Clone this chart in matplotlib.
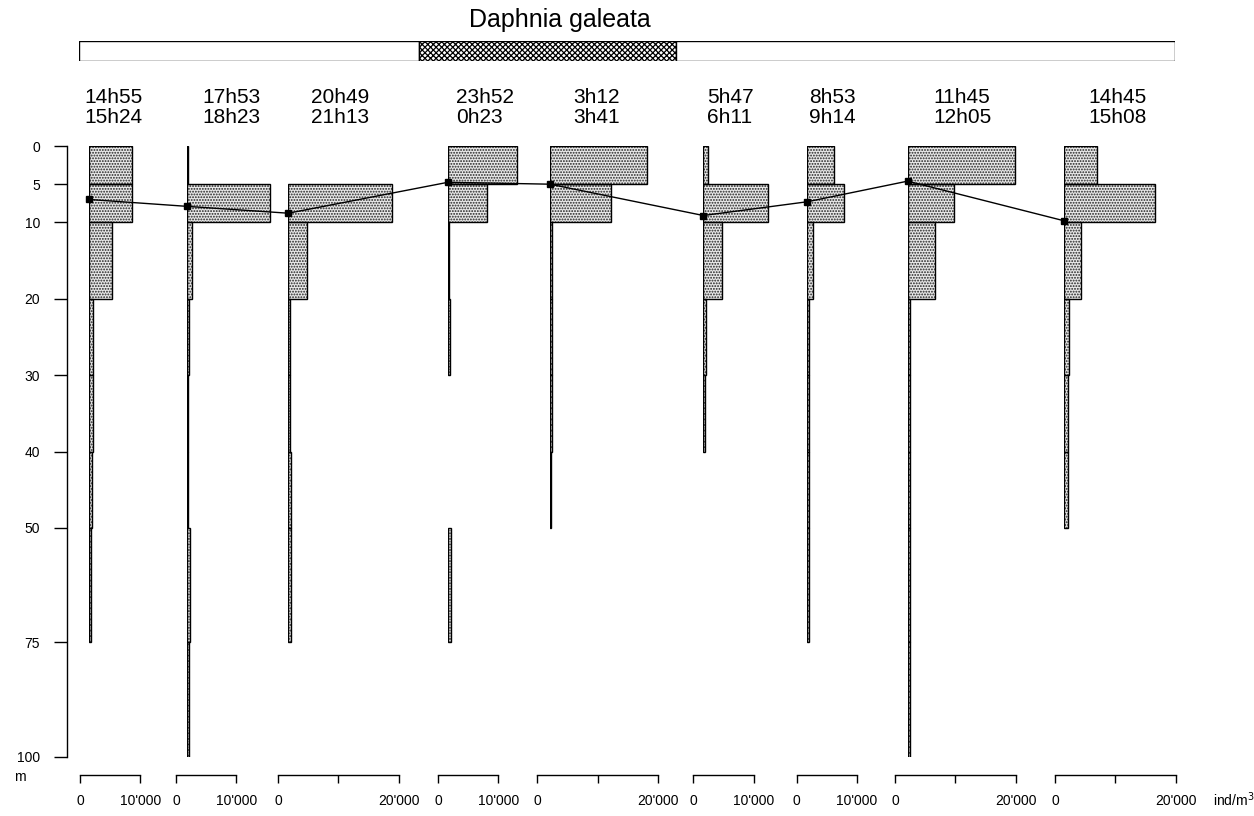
import numpy as np
import matplotlib
matplotlib.use("Agg")
import matplotlib.pyplot as plt
from matplotlib.lines import Line2D

plt.rcParams['font.family'] = ['Liberation Sans', 'DejaVu Sans']
plt.rcParams['hatch.linewidth'] = 0.9

# ---------------- data ----------------
title = "Daphnia galeata"
time_start = ["14h55", "17h53", "20h49", "23h52", "3h12", "5h47", "8h53", "11h45", "14h45"]
time_end = ["15h24", "18h23", "21h13", "0h23", "3h41", "6h11", "9h14", "12h05", "15h08"]

# depth layer boundaries (m)
layer_top = [0, 5, 10, 20, 30, 40, 50, 75]
layer_bot = [5, 10, 20, 30, 40, 50, 75, 100]

# densities (ind/m3) per layer, per profile (0 = no sample / no animals)
p1 = [7150, 7150, 3850, 700, 600, 450, 400, 0]
p2 = [200, 13800, 950, 400, 250, 250, 550, 300]
p3 = [0, 17200, 3100, 350, 300, 400, 500, 0]
p4 = [11500, 6550, 200, 250, 0, 0, 500, 0]
p5 = [16100, 10100, 300, 300, 250, 200, 0, 0]
p6 = [830, 10700, 3100, 400, 350, 0, 0, 0]
p7 = [4460, 6060, 890, 350, 300, 300, 300, 0]
p8 = [17850, 7700, 4500, 450, 400, 350, 300, 300]
p9 = [5450, 15000, 2700, 700, 650, 600, 0, 0]
densities = [p1, p2, p3, p4, p5, p6, p7, p8, p9]

# weighted mean depth (m)
mean_depth = [7.0, 7.9, 8.8, 4.75, 5.0, 9.1, 7.3, 4.6, 9.8]

# x-scale range shown under each profile (ind/m3)
scale_max = [10000, 10000, 20000, 10000, 20000, 10000, 10000, 20000, 20000]

depth_ticks = [0, 5, 10, 20, 30, 40, 50, 75, 100]

# day / night bar (fraction of the time bar)
night_start = 0.310
night_end = 0.545

# ---------------- layout ----------------
W, H = 1254, 816
fig = plt.figure(figsize=(W / 100, H / 100), dpi=100)


def fx(x):
    return x / W


def fy(y):
    return 1 - y / H


Y0, Y100 = 146, 757           # pixel rows of depth 0 and 100 m
PX_PER_1000 = 6.03            # horizontal pixels per 1000 ind/m3
base_x = [89, 186.7, 288.3, 448, 550, 703.3, 807.3, 907.7, 1064.3]
scale_x = [79.9, 176, 278.1, 438.1, 537.2, 693.4, 796.7, 895.1, 1055.1]
label_x = [84, 202, 311, 456, 573, 707, 809, 933, 1088]


def fwd(d):
    d = np.asarray(d, dtype=float)
    return np.where(d <= 50, d, 50 + (d - 50) * 0.6)


def inv(t):
    t = np.asarray(t, dtype=float)
    return np.where(t <= 50, t, 50 + (t - 50) / 0.6)


def depth_axes(left_px, width_px):
    ax = fig.add_axes([fx(left_px), fy(Y100), width_px / W, (Y100 - Y0) / H])
    ax.set_yscale('function', functions=(fwd, inv))
    ax.set_ylim(100, 0)
    ax.patch.set_alpha(0)
    return ax


# title
fig.text(fx(560), fy(20), title, ha='center', va='center', fontsize=18)

# day/night bar
axb = fig.add_axes([fx(79), fy(61), (1175 - 79) / W, 20 / H])
axb.set_xlim(0, 1)
axb.set_ylim(0, 1)
axb.barh(0, night_start, left=0, height=1, align='edge', color='white', edgecolor='black', lw=1)
axb.barh(0, night_end - night_start, left=night_start, height=1, align='edge',
         color='white', edgecolor='black', hatch='xxxxxx', lw=1)
axb.barh(0, 1 - night_end, left=night_end, height=1, align='edge', color='white', edgecolor='black', lw=1)
axb.axis('off')

# depth axis
axd = depth_axes(67, 1)
for s in ['top', 'right', 'bottom']:
    axd.spines[s].set_visible(False)
axd.spines['left'].set_linewidth(1.0)
axd.set_xticks([])
axd.set_yticks(depth_ticks)
axd.set_yticklabels([str(t) for t in depth_ticks])
axd.yaxis.set_minor_locator(matplotlib.ticker.NullLocator())
axd.tick_params(axis='y', length=9.5, width=1.0, pad=10, labelsize=10)
fig.text(fx(20), fy(777), "m", ha='center', va='center', fontsize=10)

# profiles
pts = []
for i in range(len(densities)):
    ax = depth_axes(base_x[i], 20000 * PX_PER_1000 / 1000)
    ax.set_xlim(0, 20000)
    tops = [t for t, v in zip(layer_top, densities[i]) if v > 0]
    hts = [b - t for t, b, v in zip(layer_top, layer_bot, densities[i]) if v > 0]
    vals = [v for v in densities[i] if v > 0]
    ax.barh(tops, vals, height=hts, left=0, align='edge',
            color='#e8e8e8', edgecolor='#222222', hatch='......', lw=0)
    ax.barh(tops, vals, height=hts, left=0, align='edge',
            fill=False, edgecolor='black', lw=1.0)
    ax.axis('off')
    # mean depth point in figure coordinates
    p = ax.transData.transform((0, mean_depth[i]))
    pts.append(fig.transFigure.inverted().transform(p))

    # time label
    fig.text(fx(label_x[i]), fy(107.5), time_start[i] + "\n" + time_end[i],
             ha='left', va='center', fontsize=15, linespacing=1.1)

    # scale bar
    axs = fig.add_axes([fx(scale_x[i]), fy(775), scale_max[i] * PX_PER_1000 / 1000 / W, 0.0005])
    axs.set_xlim(0, scale_max[i])
    axs.set_ylim(0, 1)
    for s in ['top', 'right', 'left']:
        axs.spines[s].set_visible(False)
    axs.spines['bottom'].set_linewidth(1.0)
    axs.set_yticks([])
    ticks = list(range(0, scale_max[i] + 1, 10000))
    axs.set_xticks(ticks)
    labs = ['' for _ in ticks]
    labs[0] = '0'
    labs[-1] = "{:,}".format(scale_max[i]).replace(',', "'")
    axs.set_xticklabels(labs)
    axs.tick_params(axis='x', length=6, width=1.0, pad=8, labelsize=10)

pts = np.array(pts)
fig.add_artist(Line2D(pts[:, 0], pts[:, 1], color='black', lw=1.0,
                      marker='s', markersize=4.5, transform=fig.transFigure))

fig.text(fx(1213), fy(800), "ind/m$^3$", ha='left', va='center', fontsize=10)

fig.savefig("out.png", dpi=100)
